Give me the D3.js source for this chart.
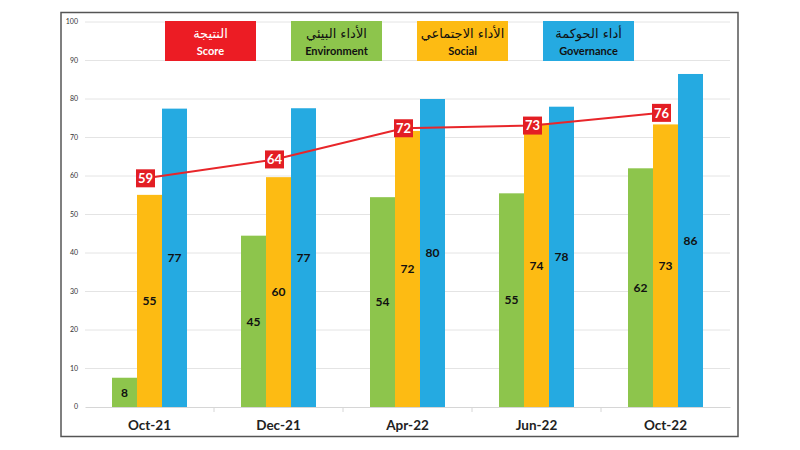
<!DOCTYPE html>
<html><head><meta charset="utf-8">
<script src="https://cdn.jsdelivr.net/npm/d3@7/dist/d3.min.js"></script>
<style>
html,body{margin:0;padding:0;background:#fff;}
svg{display:block;}
text{font-family:Lato,"Open Sans","DejaVu Sans",sans-serif;}
</style></head>
<body><svg id="c" width="800" height="450"></svg>
<script>
const categories = ["Oct-21","Dec-21","Apr-22","Jun-22","Oct-22"];
const environment = [7.6, 44.5, 54.5, 55.5, 62];
const social = [55.1, 59.7, 71.7, 73.6, 73.4];
const governance = [77.5, 77.6, 80, 78, 86.5];
const score = [59.4, 64.3, 72.4, 73.1, 76.4];
const envLabels = ["8","45","54","55","62"];
const socialLabels = ["55","60","72","74","73"];
const govLabels = ["77","77","80","78","86"];
const scoreLabels = ["59","64","72","73","76"];
const yTicks = [0,10,20,30,40,50,60,70,80,90,100];
const legend = [
  {ar:"النتيجة", en:"Score", color:"#ec1c24", text:"#fff"},
  {ar:"الأداء البيئي", en:"Environment", color:"#8dc54c", text:"#111"},
  {ar:"الأداء الاجتماعي", en:"Social", color:"#fdbb13", text:"#111"},
  {ar:"أداء الحوكمة", en:"Governance", color:"#25aae1", text:"#111"}
];
const seriesNames = ["env","social","gov"];
const seriesColors = {env:"#8dc54c", social:"#fdbb13", gov:"#25aae1"};
const seriesValues = {env:environment, social:social, gov:governance};
const seriesLabels = {env:envLabels, social:socialLabels, gov:govLabels};

const svg = d3.select("#c");
// frame
svg.append("rect").attr("x",61).attr("y",12.5).attr("width",677).attr("height",424)
  .attr("fill","#fff").attr("stroke","#555").attr("stroke-width",1.5);

const y = d3.scaleLinear().domain([0,100]).range([407,22]);
const x0 = d3.scaleBand().domain(categories).range([85,730]).padding(0);
const groupW = 75;
const x1 = d3.scaleBand().domain(seriesNames).range([0,groupW]);
const off = (x0.bandwidth()-groupW)/2;

// gridlines
svg.append("g").selectAll("line").data(yTicks.filter(d=>d>0)).join("line")
  .attr("x1",85).attr("x2",730).attr("y1",d=>y(d)).attr("y2",d=>y(d))
  .attr("stroke","#e4e4e4").attr("stroke-width",1);
// y tick labels
svg.append("g").selectAll("text").data(yTicks).join("text")
  .attr("x",78).attr("y",d=>y(d)).attr("dy","0.35em").attr("text-anchor","end")
  .attr("font-size",7).attr("fill","#333").text(d=>d);

// x axis
const xAxis = d3.axisBottom(x0).tickSize(0).tickFormat("");
const ax = svg.append("g").attr("transform","translate(0,407)").call(xAxis);
ax.select(".domain").attr("stroke","#d6d6d6");
svg.append("g").selectAll("line").data(categories.slice(1)).join("line")
  .attr("x1",d=>x0(d)).attr("x2",d=>x0(d)).attr("y1",407).attr("y2",412)
  .attr("stroke","#d6d6d6");
svg.append("g").selectAll("text").data(categories).join("text")
  .attr("x",d=>x0(d)+x0.bandwidth()/2).attr("y",425).attr("dy","0.35em")
  .attr("text-anchor","middle").attr("font-size",13.5).attr("font-weight","bold")
  .attr("fill","#222").text(d=>d);

// bars
const groups = svg.append("g").selectAll("g").data(categories).join("g")
  .attr("transform",d=>`translate(${x0(d)+off},0)`);
seriesNames.forEach(s=>{
  groups.append("rect")
    .attr("x",x1(s)).attr("width",x1.bandwidth())
    .attr("y",(d,i)=>y(seriesValues[s][i]))
    .attr("height",(d,i)=>y(0)-y(seriesValues[s][i]))
    .attr("fill",seriesColors[s]);
  groups.append("text")
    .attr("x",x1(s)+x1.bandwidth()/2)
    .attr("y",(d,i)=>(y(seriesValues[s][i])+y(0))/2)
    .attr("dy","0.35em").attr("text-anchor","middle")
    .attr("font-size",12).attr("font-weight","bold").attr("fill","#111")
    .text((d,i)=>seriesLabels[s][i]);
});

// score line
const sx = (d,i)=>x0(categories[i])+x0.bandwidth()/2-4;
const line = d3.line().x((d,i)=>sx(d,i)).y(d=>y(d));
svg.append("path").datum(score).attr("d",line).attr("fill","none")
  .attr("stroke","#e8262a").attr("stroke-width",2);
const sl = svg.append("g").selectAll("g").data(score).join("g")
  .attr("transform",(d,i)=>`translate(${sx(d,i)},${y(d)})`);
sl.append("rect").attr("x",-9.5).attr("y",-9).attr("width",19).attr("height",18)
  .attr("fill","#e31e24");
sl.append("text").attr("dy","0.36em").attr("text-anchor","middle")
  .attr("font-size",13).attr("font-weight","bold").attr("fill","#fff")
  .text((d,i)=>scoreLabels[i]);

// legend
const lg = svg.append("g").selectAll("g").data(legend).join("g")
  .attr("transform",(d,i)=>`translate(${165+i*126},21)`);
lg.append("rect").attr("width",91).attr("height",40).attr("fill",d=>d.color);
lg.append("text").attr("x",45.5).attr("y",12.5).attr("dy","0.35em").attr("text-anchor","middle")
  .attr("font-size",13).attr("fill",d=>d.text).attr("direction","rtl")
  .style("font-family","'DejaVu Sans','Noto Sans',sans-serif")
  .text(d=>d.ar);
lg.append("text").attr("x",45.5).attr("y",30).attr("dy","0.35em").attr("text-anchor","middle")
  .attr("font-size",11).attr("font-weight","bold").attr("fill",d=>d.text)
  .text(d=>d.en);
</script></body></html>
